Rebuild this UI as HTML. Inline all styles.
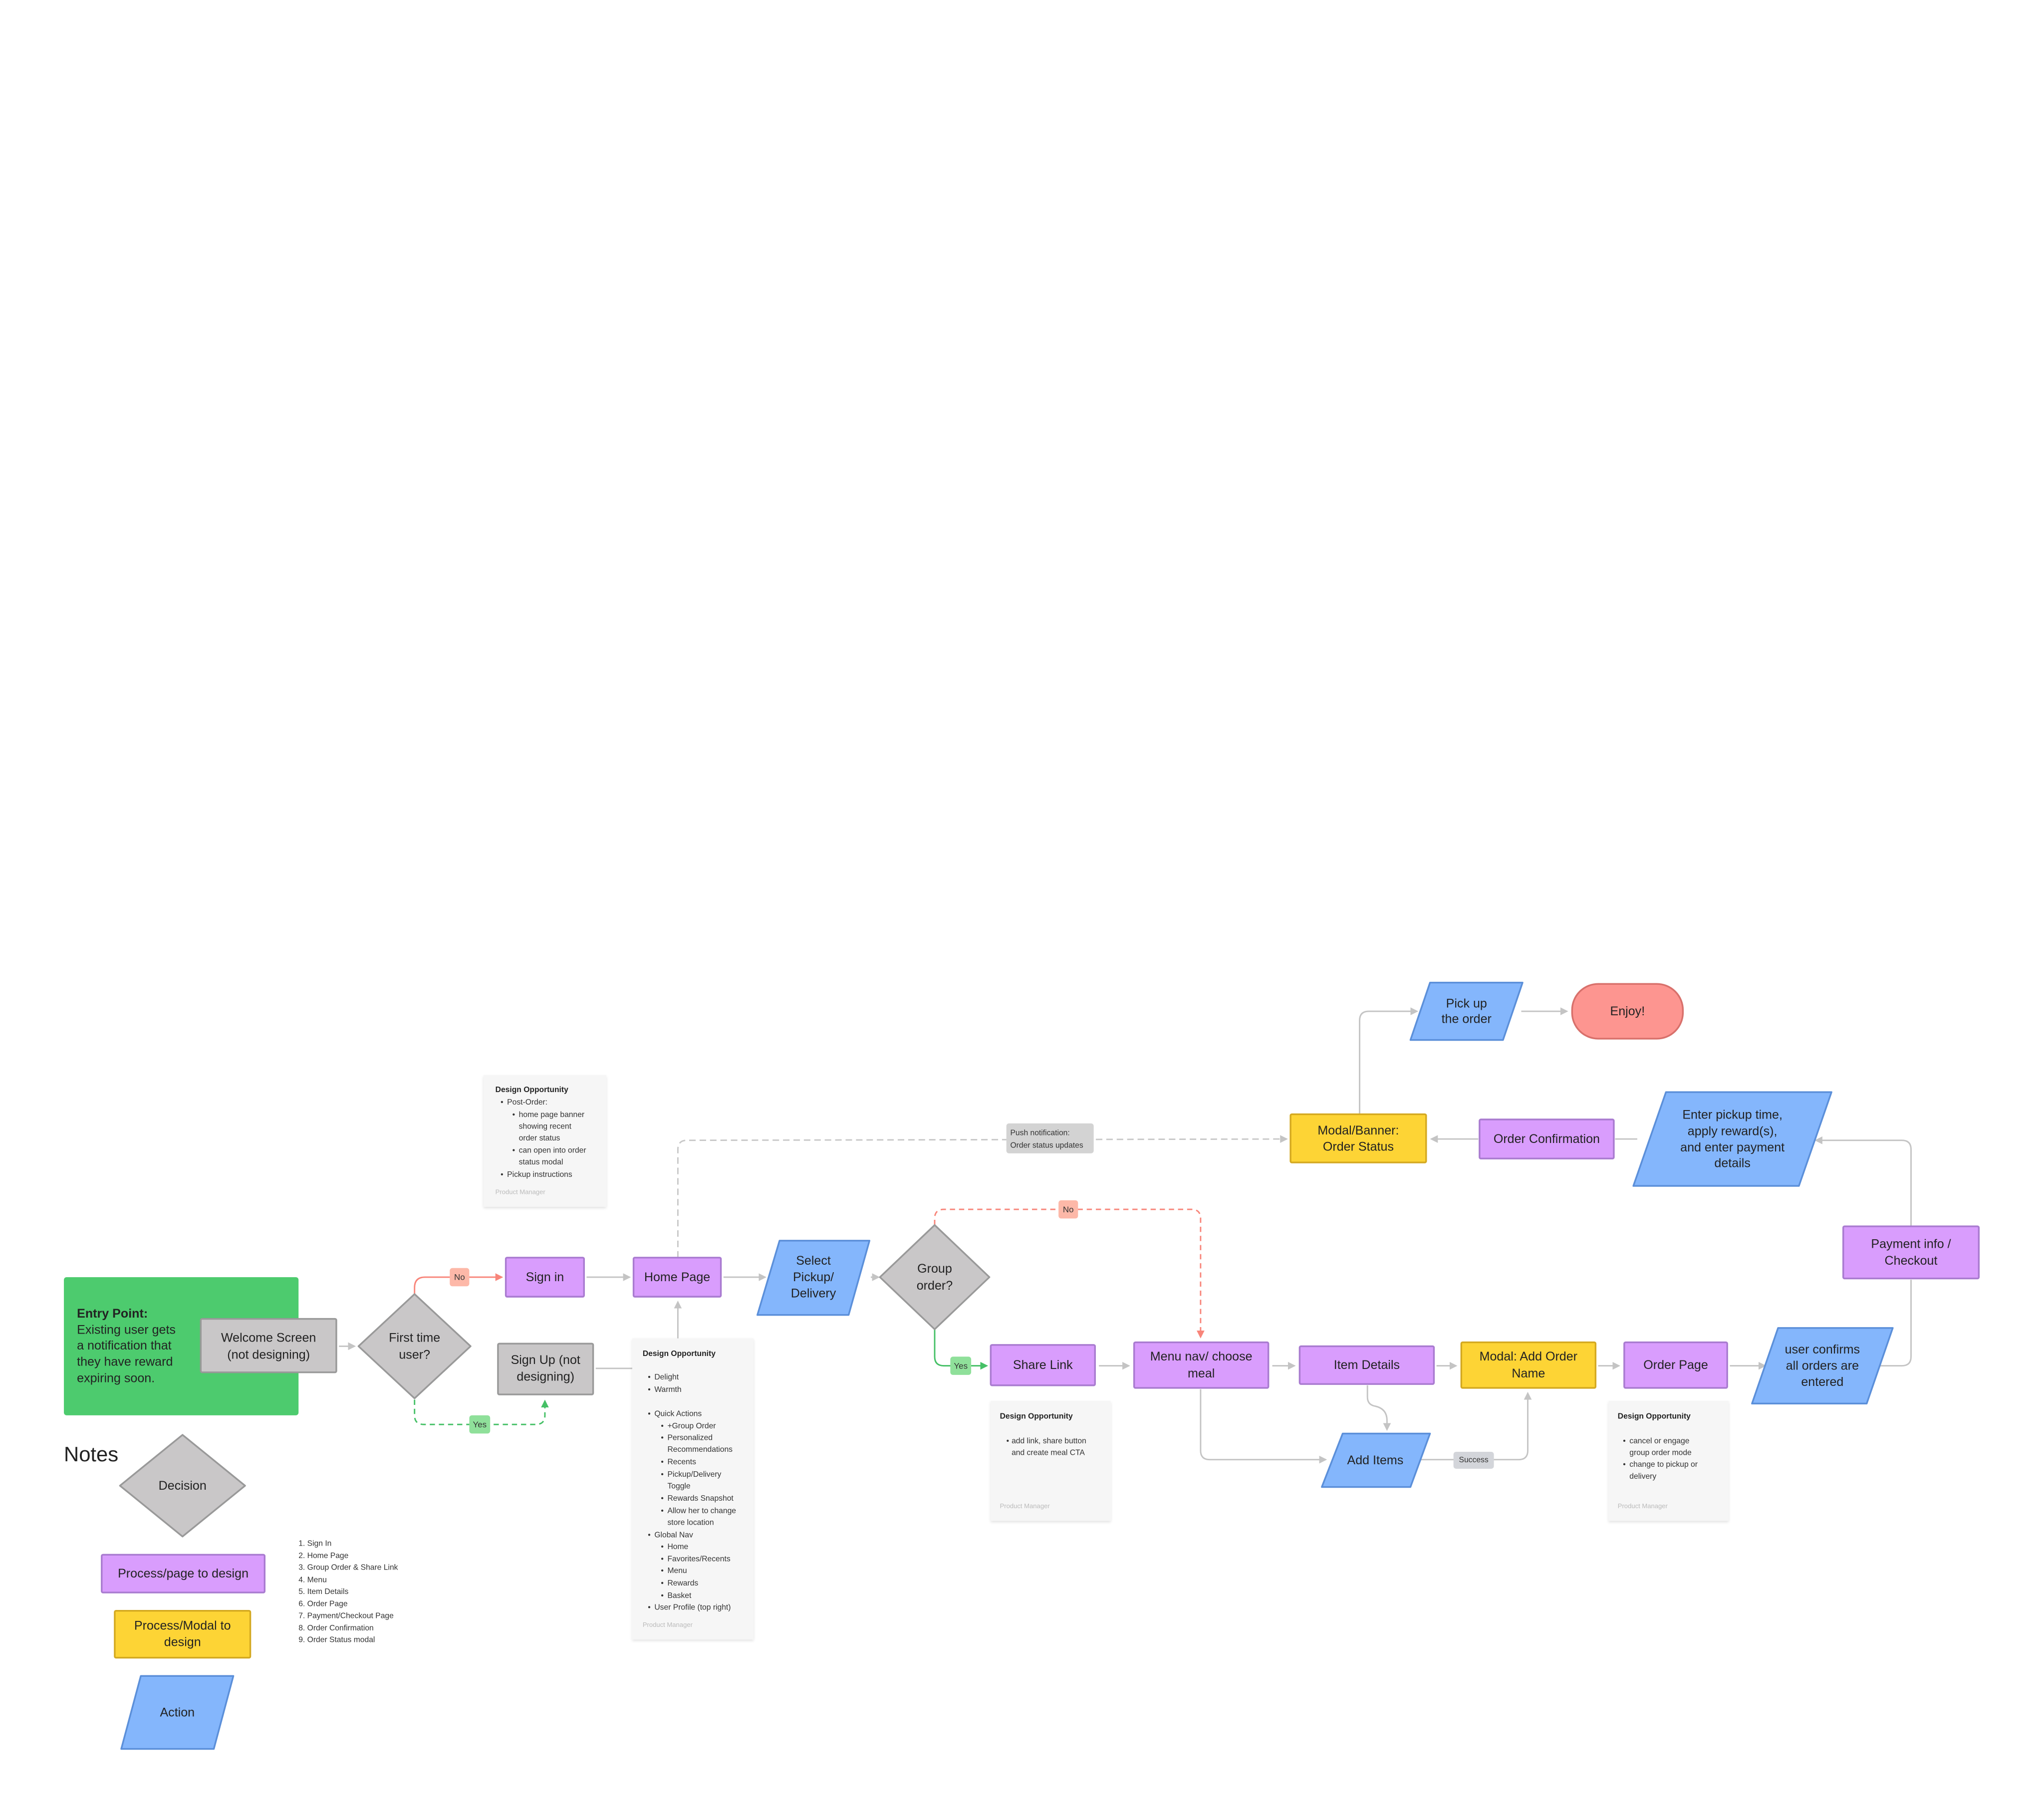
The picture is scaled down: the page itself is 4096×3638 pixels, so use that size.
<!DOCTYPE html>
<html><head><meta charset="utf-8"><style>
html,body{margin:0;padding:0;background:#fff;}
svg{display:block;}
text{font-family:"Liberation Sans",sans-serif;fill:#222;}
.n{font-size:9.6px;text-anchor:middle;dominant-baseline:middle;}
.s{font-size:6px;dominant-baseline:middle;fill:#333;}
.sb{font-size:6px;font-weight:bold;dominant-baseline:middle;fill:#222;}
.pm{font-size:5px;dominant-baseline:middle;fill:#bbb;}
.pur{fill:#d99dfd;stroke:#a97bd0;stroke-width:1.3;}
.yel{fill:#fdd435;stroke:#d4a920;stroke-width:1.3;}
.blu{fill:#84b6fc;stroke:#5b8fd9;stroke-width:1.3;}
.gry{fill:#c9c7c8;stroke:#999;stroke-width:1.3;}
.c{fill:none;stroke:#c4c4c4;stroke-width:1.1;}
.note{fill:#f6f6f6;}
</style></head><body>
<svg width="4096" height="3638" viewBox="0 0 1568 1392.7" xmlns="http://www.w3.org/2000/svg">
<defs>
<marker id="ag" markerWidth="6" markerHeight="6" refX="5" refY="3" orient="auto" markerUnits="userSpaceOnUse"><path d="M0,0 L6,3 L0,6 Z" fill="#c4c4c4"/></marker>
<marker id="ar" markerWidth="6" markerHeight="6" refX="5" refY="3" orient="auto" markerUnits="userSpaceOnUse"><path d="M0,0 L6,3 L0,6 Z" fill="#f8857a"/></marker>
<marker id="agr" markerWidth="6" markerHeight="6" refX="5" refY="3" orient="auto" markerUnits="userSpaceOnUse"><path d="M0,0 L6,3 L0,6 Z" fill="#45c066"/></marker>
<filter id="sh" x="-10%" y="-10%" width="120%" height="120%"><feDropShadow dx="0" dy="1" stdDeviation="1" flood-color="#000" flood-opacity="0.12"/></filter>
</defs>

<!-- connectors -->
<path class="c" d="M260,1033 L272,1033" marker-end="url(#ag)"/>
<path d="M318,993 L318,988 Q318,980 326,980 L385,980" fill="none" stroke="#f8857a" stroke-width="1.1" marker-end="url(#ar)"/>
<path d="M318,1074 L318,1086 Q318,1093 325,1093 L411,1093 Q418,1093 418,1086 L418,1075" fill="none" stroke="#45c066" stroke-width="1.1" stroke-dasharray="4,3" marker-end="url(#agr)"/>
<path class="c" d="M450,980 L483,980" marker-end="url(#ag)"/>
<path class="c" d="M555,980 L587,980" marker-end="url(#ag)"/>
<path class="c" d="M668,980 L674,980" marker-end="url(#ag)"/>
<path class="c" d="M457,1050 L485,1050"/>
<path class="c" d="M520,1027 L520,999" marker-end="url(#ag)"/>
<path d="M520,965 L520,882 Q520,875 527,875 L987,874" fill="none" stroke="#c8c8c8" stroke-width="1.1" stroke-dasharray="5,3" marker-end="url(#ag)"/>
<path d="M717,940 L717,935 Q717,928 724,928 L914,928 Q921,928 921,935 L921,1026" fill="none" stroke="#f8857a" stroke-width="1.1" stroke-dasharray="4,3" marker-end="url(#ar)"/>
<path d="M717,1020 L717,1041 Q717,1048 724,1048 L757,1048" fill="none" stroke="#45c066" stroke-width="1.1" marker-end="url(#agr)"/>
<path class="c" d="M843,1048 L866,1048" marker-end="url(#ag)"/>
<path class="c" d="M976,1048 L993,1048" marker-end="url(#ag)"/>
<path class="c" d="M1102,1048 L1117,1048" marker-end="url(#ag)"/>
<path class="c" d="M1226,1048 L1242,1048" marker-end="url(#ag)"/>
<path class="c" d="M1327,1048 L1354,1048" marker-end="url(#ag)"/>
<path class="c" d="M921,1066 L921,1113 Q921,1120 928,1120 L1017,1120" marker-end="url(#ag)"/>
<path class="c" d="M1049,1063 L1049,1072 Q1049,1078 1055,1079 Q1064,1081 1064,1090 L1064,1097" marker-end="url(#ag)"/>
<path class="c" d="M1090,1120 L1165,1120 Q1172,1120 1172,1113 L1172,1069" marker-end="url(#ag)"/>
<path class="c" d="M1440,1048 L1459,1048 Q1466,1048 1466,1041 L1466,982"/>
<path class="c" d="M1466,941 L1466,882 Q1466,875 1459,875 L1393,875" marker-end="url(#ag)"/>
<path class="c" d="M1256,874 L1239,874"/>
<path class="c" d="M1134,874 L1098,874" marker-end="url(#ag)"/>
<path class="c" d="M1043,855 L1043,783 Q1043,776 1050,776 L1087,776" marker-end="url(#ag)"/>
<path class="c" d="M1167,776 L1202,776" marker-end="url(#ag)"/>

<!-- labels on connectors -->
<rect x="345" y="973" width="15" height="14" rx="2" fill="#fdb8a8"/><text class="s" x="352.5" y="980.5" text-anchor="middle" style="font-size:6.5px">No</text>
<rect x="360" y="1086" width="16" height="14" rx="2" fill="#8fe09a"/><text class="s" x="368" y="1093.5" text-anchor="middle" style="font-size:6.5px">Yes</text>
<rect x="812" y="921" width="15" height="14" rx="2" fill="#fdb8a8"/><text class="s" x="819.5" y="928.5" text-anchor="middle" style="font-size:6.5px">No</text>
<rect x="729" y="1041" width="16" height="14" rx="2" fill="#8fe09a"/><text class="s" x="737" y="1048.5" text-anchor="middle" style="font-size:6.5px">Yes</text>
<rect x="772" y="862" width="67" height="23" rx="2" fill="#d3d3d3"/>
<text class="s" x="775" y="869.5">Push notification:</text><text class="s" x="775" y="879">Order status updates</text>
<rect x="1115" y="1114" width="31" height="13" rx="2" fill="#d3d5da"/><text class="s" x="1130.5" y="1120.5" text-anchor="middle">Success</text>

<!-- entry -->
<rect x="49" y="980" width="180" height="106" rx="2" fill="#4dcb6e"/>
<text x="59" y="1008.5" style="font-size:9.6px;font-weight:bold;dominant-baseline:middle">Entry Point:</text>
<text x="59" y="1021" style="font-size:9.6px;dominant-baseline:middle">Existing user gets</text>
<text x="59" y="1033" style="font-size:9.6px;dominant-baseline:middle">a notification that</text>
<text x="59" y="1045.5" style="font-size:9.6px;dominant-baseline:middle">they have reward</text>
<text x="59" y="1058" style="font-size:9.6px;dominant-baseline:middle">expiring soon.</text>
<rect class="gry" x="154" y="1012" width="104" height="41" rx="1"/>
<text class="n" x="206" y="1027">Welcome Screen</text><text class="n" x="206" y="1040">(not designing)</text>

<polygon class="gry" points="318,993 361,1033 318,1073 275,1033" stroke-linejoin="round"/>
<text class="n" x="318" y="1027">First time</text><text class="n" x="318" y="1040">user?</text>

<rect class="pur" x="388" y="965" width="60" height="30" rx="1"/><text class="n" x="418" y="980.5">Sign in</text>
<rect class="pur" x="486" y="965" width="67" height="30" rx="1"/><text class="n" x="519.5" y="980.5">Home Page</text>
<rect class="gry" x="382" y="1031" width="73" height="39" rx="1"/>
<text class="n" x="418.5" y="1044">Sign Up (not</text><text class="n" x="418.5" y="1057">designing)</text>

<polygon class="blu" points="598,952 667,952 651,1009 581,1009" stroke-linejoin="round"/>
<text class="n" x="624" y="968">Select</text><text class="n" x="624" y="980.5">Pickup/</text><text class="n" x="624" y="993">Delivery</text>

<polygon class="gry" points="717,940 759,980 717,1020 675,980" stroke-linejoin="round"/>
<text class="n" x="717" y="974">Group</text><text class="n" x="717" y="987">order?</text>

<rect class="pur" x="760" y="1032" width="80" height="31" rx="1"/><text class="n" x="800" y="1048">Share Link</text>
<rect class="pur" x="870" y="1030" width="103" height="35" rx="1"/><text class="n" x="921.5" y="1041.5">Menu nav/ choose</text><text class="n" x="921.5" y="1054.5">meal</text>
<rect class="pur" x="997" y="1033" width="103" height="29" rx="1"/><text class="n" x="1048.5" y="1048">Item Details</text>
<rect class="yel" x="1121" y="1030" width="103" height="35" rx="1"/><text class="n" x="1172.5" y="1041.5">Modal: Add Order</text><text class="n" x="1172.5" y="1054.5">Name</text>
<rect class="pur" x="1246" y="1030" width="79" height="35" rx="1"/><text class="n" x="1285.5" y="1048">Order Page</text>
<polygon class="blu" points="1364,1019 1452,1019 1432,1077 1344,1077" stroke-linejoin="round"/>
<text class="n" x="1398" y="1036">user confirms</text><text class="n" x="1398" y="1048.5">all orders are</text><text class="n" x="1398" y="1061">entered</text>
<polygon class="blu" points="1030,1100 1097,1100 1082,1141 1014,1141" stroke-linejoin="round"/>
<text class="n" x="1055" y="1121">Add Items</text>

<rect class="pur" x="1414" y="941" width="104" height="40" rx="1"/><text class="n" x="1466" y="955">Payment info /</text><text class="n" x="1466" y="968">Checkout</text>
<polygon class="blu" points="1278,838 1405,838 1380,910 1253,910" stroke-linejoin="round"/>
<text class="n" x="1329" y="856">Enter pickup time,</text><text class="n" x="1329" y="868.5">apply reward(s),</text><text class="n" x="1329" y="881">and enter payment</text><text class="n" x="1329" y="893">details</text>
<rect class="pur" x="1135" y="859" width="103" height="30" rx="1"/><text class="n" x="1186.5" y="874.5">Order Confirmation</text>
<rect class="yel" x="990" y="855" width="104" height="37" rx="1"/><text class="n" x="1042" y="868">Modal/Banner:</text><text class="n" x="1042" y="880.5">Order Status</text>
<polygon class="blu" points="1097,754 1168,754 1153,798 1082,798" stroke-linejoin="round"/>
<text class="n" x="1125" y="770.5">Pick up</text><text class="n" x="1125" y="782.5">the order</text>
<rect x="1206" y="755" width="85" height="42" rx="20" fill="#fd9590" stroke="#d8706b" stroke-width="1.3"/><text class="n" x="1248.5" y="776.5">Enjoy!</text>

<!-- notes -->
<g filter="url(#sh)">
<rect class="note" x="371" y="825" width="94" height="101"/>
<rect class="note" x="485" y="1027" width="93" height="231"/>
<rect class="note" x="760" y="1075" width="92" height="92"/>
<rect class="note" x="1234" y="1075" width="92" height="92"/>
</g>
<text class="sb" x="380" y="836.5">Design Opportunity</text>
<text class="s" x="384" y="846">•</text><text class="s" x="389" y="846">Post-Order:</text>
<text class="s" x="393" y="855.5">•</text><text class="s" x="398" y="855.5">home page banner</text>
<text class="s" x="398" y="864.5">showing recent</text>
<text class="s" x="398" y="873.5">order status</text>
<text class="s" x="393" y="883">•</text><text class="s" x="398" y="883">can open into order</text>
<text class="s" x="398" y="892">status modal</text>
<text class="s" x="384" y="901.5">•</text><text class="s" x="389" y="901.5">Pickup instructions</text>
<text class="pm" x="380" y="915">Product Manager</text>

<text class="sb" x="493" y="1039">Design Opportunity</text>
<g class="s">
<text class="s" x="497" y="1057">•</text><text class="s" x="502" y="1057">Delight</text>
<text class="s" x="497" y="1066.5">•</text><text class="s" x="502" y="1066.5">Warmth</text>
<text class="s" x="497" y="1085">•</text><text class="s" x="502" y="1085">Quick Actions</text>
<text class="s" x="507" y="1094.5">•</text><text class="s" x="512" y="1094.5">+Group Order</text>
<text class="s" x="507" y="1103.5">•</text><text class="s" x="512" y="1103.5">Personalized</text>
<text class="s" x="512" y="1112.5">Recommendations</text>
<text class="s" x="507" y="1122">•</text><text class="s" x="512" y="1122">Recents</text>
<text class="s" x="507" y="1131.5">•</text><text class="s" x="512" y="1131.5">Pickup/Delivery</text>
<text class="s" x="512" y="1140.5">Toggle</text>
<text class="s" x="507" y="1150">•</text><text class="s" x="512" y="1150">Rewards Snapshot</text>
<text class="s" x="507" y="1159.5">•</text><text class="s" x="512" y="1159.5">Allow her to change</text>
<text class="s" x="512" y="1168.5">store location</text>
<text class="s" x="497" y="1178">•</text><text class="s" x="502" y="1178">Global Nav</text>
<text class="s" x="507" y="1187">•</text><text class="s" x="512" y="1187">Home</text>
<text class="s" x="507" y="1196.5">•</text><text class="s" x="512" y="1196.5">Favorites/Recents</text>
<text class="s" x="507" y="1205.5">•</text><text class="s" x="512" y="1205.5">Menu</text>
<text class="s" x="507" y="1215">•</text><text class="s" x="512" y="1215">Rewards</text>
<text class="s" x="507" y="1224.5">•</text><text class="s" x="512" y="1224.5">Basket</text>
<text class="s" x="497" y="1233.5">•</text><text class="s" x="502" y="1233.5">User Profile (top right)</text>
</g>
<text class="pm" x="493" y="1247">Product Manager</text>

<text class="sb" x="767" y="1087">Design Opportunity</text>
<text class="s" x="772" y="1106">•</text><text class="s" x="776" y="1106">add link, share button</text>
<text class="s" x="776" y="1115">and create meal CTA</text>
<text class="pm" x="767" y="1156">Product Manager</text>

<text class="sb" x="1241" y="1087">Design Opportunity</text>
<text class="s" x="1245" y="1106">•</text><text class="s" x="1250" y="1106">cancel or engage</text>
<text class="s" x="1250" y="1115">group order mode</text>
<text class="s" x="1245" y="1124">•</text><text class="s" x="1250" y="1124">change to pickup or</text>
<text class="s" x="1250" y="1133">delivery</text>
<text class="pm" x="1241" y="1156">Product Manager</text>

<!-- legend -->
<text x="49" y="1117" style="font-size:16px;dominant-baseline:middle">Notes</text>
<polygon class="gry" points="140,1101 188,1140 140,1179 92,1140" stroke-linejoin="round"/>
<text class="n" x="140" y="1140.5">Decision</text>
<rect class="pur" x="78" y="1193" width="125" height="29" rx="1"/><text class="n" x="140.5" y="1208">Process/page to design</text>
<rect class="yel" x="88" y="1236" width="104" height="36" rx="1"/><text class="n" x="140" y="1248">Process/Modal to</text><text class="n" x="140" y="1260.5">design</text>
<polygon class="blu" points="108,1286 179,1286 164,1342 93,1342" stroke-linejoin="round"/>
<text class="n" x="136" y="1314.5">Action</text>

<g>
<text class="s" x="229" y="1184.5">1. Sign In</text>
<text class="s" x="229" y="1194">2. Home Page</text>
<text class="s" x="229" y="1203">3. Group Order &amp; Share Link</text>
<text class="s" x="229" y="1212.5">4. Menu</text>
<text class="s" x="229" y="1221.5">5. Item Details</text>
<text class="s" x="229" y="1231">6. Order Page</text>
<text class="s" x="229" y="1240">7. Payment/Checkout Page</text>
<text class="s" x="229" y="1249.5">8. Order Confirmation</text>
<text class="s" x="229" y="1258.5">9. Order Status modal</text>
</g>
</svg>
</body></html>
